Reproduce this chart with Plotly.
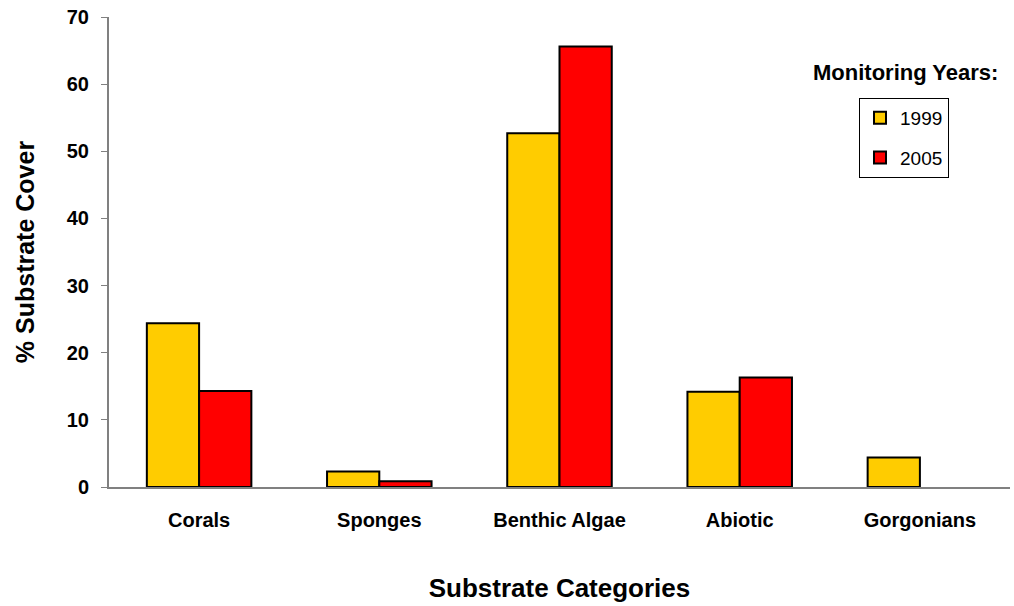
import plotly.graph_objects as go

categories = ["Corals", "Sponges", "Benthic Algae", "Abiotic", "Gorgonians"]
y1999 = [24.4, 2.3, 52.7, 14.2, 4.4]
y2005 = [14.3, 0.85, 65.6, 16.3, None]
yticks = [0, 10, 20, 30, 40, 50, 60, 70]

FONT = "Liberation Sans, Arial, sans-serif"
W, H = 1014, 606
L, R, T, B = 109, 4, 17, 119
PW, PH = W - L - R, H - T - B


def px_x(x):
    return (x - L) / PW


def px_y(y):
    return 1 - (y - T) / PH


fig = go.Figure()
fig.add_trace(go.Bar(x=categories, y=y1999, name="1999", legendgroup="a",
                     marker=dict(color="#FFCC00", line=dict(color="black", width=2))))
fig.add_trace(go.Bar(x=categories, y=y2005, name="2005", legendgroup="b",
                     marker=dict(color="#FF0000", line=dict(color="black", width=2))))

fig.update_layout(
    width=W, height=H,
    margin=dict(l=L, r=R, t=T, b=B),
    paper_bgcolor="white", plot_bgcolor="white",
    barmode="group", bargap=0.42, bargroupgap=0,
    font=dict(family=FONT, color="black"),
    showlegend=True,
    legend=dict(x=px_x(859), y=px_y(98), xanchor="left", yanchor="top",
                bordercolor="black", borderwidth=1, bgcolor="white",
                font=dict(size=19, family=FONT), traceorder="grouped",
                tracegroupgap=12, itemwidth=30),
    xaxis=dict(showline=True, linecolor="#808080", linewidth=2, ticks="",
               automargin=False, ticklabelstandoff=14,
               tickfont=dict(size=20, family=FONT, weight="bold"),
               title=dict(text="<b>Substrate Categories</b>", font=dict(size=26), standoff=49)),
    yaxis=dict(range=[0, 70.001], tickvals=yticks, showline=True, linecolor="#808080",
               linewidth=2, ticks="outside", ticklen=6, tickcolor="#808080",
               showgrid=False, zeroline=False, automargin=False, ticklabelstandoff=8,
               ticklabeloverflow="allow",
               tickfont=dict(size=20, family=FONT, weight="bold"),
               title=dict(text="<b>% Substrate Cover</b>", font=dict(size=25), standoff=25)),
    annotations=[dict(text="<b>Monitoring Years:</b>", x=px_x(905), y=px_y(73),
                      xref="paper", yref="paper", xanchor="center", yanchor="middle",
                      showarrow=False, font=dict(size=22))],
)

fig.write_html("out.html", config={"displayModeBar": False},
               post_script="document.body.style.margin='0';")
